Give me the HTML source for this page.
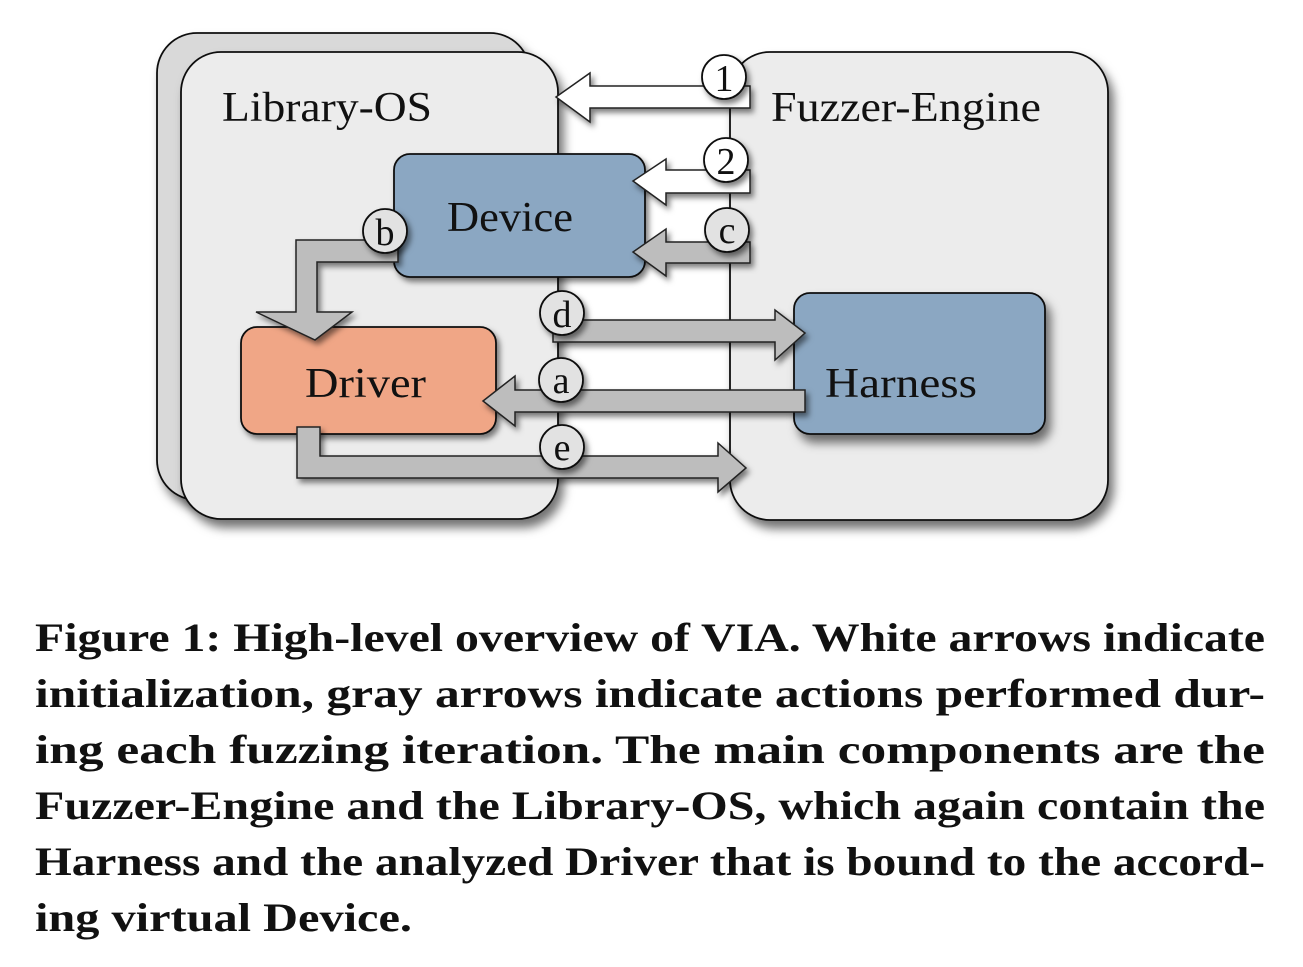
<!DOCTYPE html>
<html><head><meta charset="utf-8"><style>
html,body{margin:0;padding:0;background:#fff;width:1303px;height:967px;overflow:hidden}
svg{position:absolute;left:0;top:0}
</style></head><body>
<svg width="1303" height="967" viewBox="0 0 1303 967" font-family="Liberation Serif, serif">
<defs>
<filter id="sh" x="-20%" y="-20%" width="140%" height="140%"><feDropShadow dx="5" dy="8" stdDeviation="5" flood-color="#000" flood-opacity="0.55"/></filter>
<filter id="sh2" x="-20%" y="-20%" width="140%" height="140%"><feDropShadow dx="3" dy="4" stdDeviation="3" flood-color="#000" flood-opacity="0.5"/></filter>
</defs>
<g stroke="#111" stroke-width="1.8">
<rect x="157" y="33" width="373" height="467" rx="40" fill="#d9d9d9" filter="url(#sh)"/>
<rect x="181" y="52" width="377" height="467" rx="40" fill="#ececec" filter="url(#sh)"/>
<rect x="730" y="52" width="378" height="468" rx="40" fill="#ececec" filter="url(#sh)"/>
<rect x="394" y="154" width="251" height="123" rx="16" fill="#8ba7c2" filter="url(#sh2)"/>
<rect x="241" y="327" width="255" height="107" rx="16" fill="#f0a686" filter="url(#sh2)"/>
<rect x="794" y="293" width="251" height="141" rx="16" fill="#8ba7c2" filter="url(#sh)"/>
</g>
<g stroke="#222" stroke-width="1.5" filter="url(#sh2)">
<polygon points="750,86 750,108 590,108 590,122 556,97 590,73 590,86" fill="#fff"/>
<polygon points="750,170 750,193 666,193 666,205 633,181 666,159 666,170" fill="#fff"/>
<polygon points="750,242 750,263 666,263 666,276 633,252 666,229 666,242" fill="#bdbdbd"/>
<polygon points="398,240 398,262 317,262 317,312 352,312 315,340 256,312 296,312 296,240" fill="#bdbdbd"/>
<polygon points="553,320 775,320 775,310 805,333 775,360 775,342 553,342" fill="#bdbdbd"/>
<polygon points="805,390 805,412 515,412 515,426 483,401 515,376 515,390" fill="#bdbdbd"/>
<polygon points="297,427 320,427 320,456 718,456 718,443 746,468 718,492 718,478 297,478" fill="#bdbdbd"/>
</g>
<g stroke="#111" stroke-width="1.8" filter="url(#sh2)">
<circle cx="724" cy="77" r="22" fill="#fff"/>
<circle cx="726" cy="160" r="22" fill="#fff"/>
<circle cx="727" cy="230" r="22" fill="#e2e2e2"/>
<circle cx="385" cy="231" r="22" fill="#e2e2e2"/>
<circle cx="562" cy="313" r="22" fill="#e2e2e2"/>
<circle cx="561" cy="380" r="22" fill="#e2e2e2"/>
<circle cx="562" cy="447" r="22" fill="#e2e2e2"/>
</g>
<g font-size="38" fill="#111" text-anchor="middle">
<text x="724" y="91">1</text><text x="726" y="174">2</text><text x="727" y="243">c</text>
<text x="385" y="245">b</text><text x="562" y="327">d</text><text x="561" y="393">a</text><text x="562" y="460">e</text>
</g>
<g font-size="42" fill="#111">
<text x="222" y="121" textLength="210" lengthAdjust="spacingAndGlyphs">Library-OS</text>
<text x="771" y="121" textLength="270" lengthAdjust="spacingAndGlyphs">Fuzzer-Engine</text>
<text x="447" y="231" textLength="126" lengthAdjust="spacingAndGlyphs">Device</text>
<text x="305" y="397" textLength="121" lengthAdjust="spacingAndGlyphs">Driver</text>
<text x="825" y="397" textLength="152" lengthAdjust="spacingAndGlyphs">Harness</text>
</g>
<g font-size="40" font-weight="bold" fill="#111">
<text x="35" y="651" textLength="1230" lengthAdjust="spacingAndGlyphs">Figure 1: High-level overview of VIA. White arrows indicate</text>
<text x="35" y="707" textLength="1230" lengthAdjust="spacingAndGlyphs">initialization, gray arrows indicate actions performed dur-</text>
<text x="35" y="763" textLength="1230" lengthAdjust="spacingAndGlyphs">ing each fuzzing iteration. The main components are the</text>
<text x="35" y="819" textLength="1230" lengthAdjust="spacingAndGlyphs">Fuzzer-Engine and the Library-OS, which again contain the</text>
<text x="35" y="875" textLength="1230" lengthAdjust="spacingAndGlyphs">Harness and the analyzed Driver that is bound to the accord-</text>
<text x="35" y="931" textLength="377" lengthAdjust="spacingAndGlyphs">ing virtual Device.</text>
</g>
</svg>
</body></html>
